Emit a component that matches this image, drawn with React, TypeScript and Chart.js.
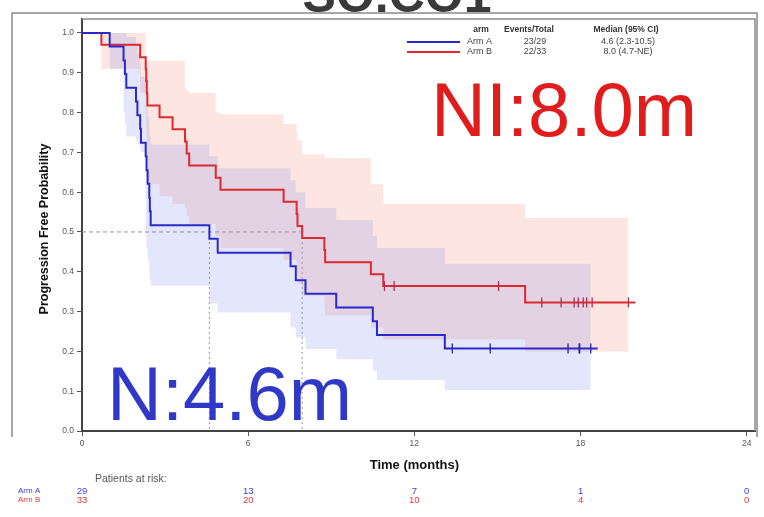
import React, { useEffect, useRef } from "react";
import { Chart, registerables } from "chart.js";

Chart.register(...registerables);

const FONT = "'Liberation Sans', Arial, sans-serif";

// Axis ticks
const timeTicks = [0, 6, 12, 18, 24];
const probTicks = [0, 0.1, 0.2, 0.3, 0.4, 0.5, 0.6, 0.7, 0.8, 0.9, 1.0];

// Legend table
const armLabels = ["Arm A", "Arm B"];
const eventsTotal = ["23/29", "22/33"];
const medianText = ["4.6 (2.3-10.5)", "8.0 (4.7-NE)"];
const medianTimes = [4.6, 7.95];
const headerLabels = ["arm", "Events/Total", "Median (95% CI)"];

// Patients at risk at each time tick
const atRiskA = [29, 13, 7, 1, 0];
const atRiskB = [33, 20, 10, 4, 0];

// Arm A: Kaplan-Meier steps with 95% CI
const armATimes = [0, 1.0, 1.5, 1.55, 1.6, 1.95, 2.0, 2.1, 2.13, 2.3, 2.33, 2.37, 2.43, 2.45, 2.48, 4.6, 4.9, 7.53, 7.72, 8.07, 9.18, 10.5, 10.65, 13.1];
const armASurv = [1, 0.966, 0.931, 0.897, 0.862, 0.828, 0.793, 0.759, 0.724, 0.69, 0.655, 0.621, 0.586, 0.552, 0.517, 0.483, 0.448, 0.414, 0.379, 0.345, 0.31, 0.276, 0.241, 0.207];
const armALower = [1, 0.91, 0.8, 0.77, 0.74, 0.73, 0.72, 0.71, 0.7, 0.49, 0.46, 0.43, 0.4, 0.38, 0.365, 0.32, 0.298, 0.26, 0.235, 0.206, 0.18, 0.15, 0.128, 0.103];
const armAUpper = [1, 1, 1, 1, 0.99, 0.97, 0.95, 0.92, 0.89, 0.85, 0.82, 0.79, 0.76, 0.74, 0.72, 0.69, 0.66, 0.63, 0.6, 0.56, 0.53, 0.49, 0.46, 0.42];
const armACensored = [13.37, 14.74, 17.55, 17.95, 17.97, 18.37];
const armALastTime = 18.62;

// Arm B: Kaplan-Meier steps with 95% CI
const armBTimes = [0, 0.7, 2.1, 2.3, 2.32, 2.34, 2.36, 2.8, 3.27, 3.72, 3.78, 3.87, 4.83, 5.0, 7.28, 7.75, 7.78, 7.95, 8.75, 8.78, 10.43, 10.88, 16.0];
const armBSurv = [1, 0.97, 0.939, 0.909, 0.879, 0.848, 0.818, 0.788, 0.758, 0.727, 0.697, 0.667, 0.636, 0.606, 0.576, 0.545, 0.515, 0.485, 0.455, 0.424, 0.394, 0.364, 0.323];
const armBLower = [1, 0.91, 0.85, 0.8, 0.74, 0.68, 0.62, 0.59, 0.57, 0.56, 0.54, 0.52, 0.49, 0.46, 0.43, 0.4, 0.37, 0.34, 0.31, 0.29, 0.26, 0.23, 0.2];
const armBUpper = [1, 1, 1, 0.93, 0.93, 0.93, 0.93, 0.93, 0.93, 0.86, 0.855, 0.85, 0.8, 0.796, 0.771, 0.75, 0.73, 0.695, 0.69, 0.686, 0.62, 0.57, 0.535];
const armBCensored = [10.92, 11.27, 15.04, 16.6, 17.3, 17.77, 17.92, 18.1, 18.22, 18.42, 19.73];
const armBLastTime = 19.98;

const BLUE = "rgb(42,42,200)";
const RED = "rgb(220,42,48)";
const BLUE_MARK = "rgb(40,40,150)";
const RED_MARK = "rgb(170,50,80)";
const BLUE_BAND = "rgba(120,130,235,0.2)";
const RED_BAND = "rgba(245,135,115,0.21)";

function stepPoints(times: number[], values: number[], end: number) {
  const pts = times.map((t, i) => ({ x: t, y: values[i] }));
  pts.push({ x: end, y: values[values.length - 1] });
  return pts;
}

function valueAt(times: number[], values: number[], t: number) {
  let v = values[0];
  for (let i = 0; i < times.length; i++) if (times[i] <= t) v = values[i];
  return v;
}

const decorPlugin = {
  id: "decor",
  beforeDatasetsDraw(chart: any) {
    const { ctx, chartArea, scales } = chart;
    const xs = scales.x;
    const ys = scales.y;
    ctx.save();
    // median reference lines
    ctx.strokeStyle = "rgba(140,140,140,0.9)";
    ctx.lineWidth = 1;
    ctx.setLineDash([4, 3]);
    const y50 = ys.getPixelForValue(0.5);
    ctx.beginPath();
    ctx.moveTo(chartArea.left, y50);
    ctx.lineTo(xs.getPixelForValue(Math.max(...medianTimes)), y50);
    ctx.stroke();
    ctx.setLineDash([2, 3]);
    medianTimes.forEach((m) => {
      const x = xs.getPixelForValue(m);
      ctx.beginPath();
      ctx.moveTo(x, y50);
      ctx.lineTo(x, ys.getPixelForValue(0));
      ctx.stroke();
    });
    ctx.restore();
  },
  afterDraw(chart: any) {
    const { ctx, chartArea, scales } = chart;
    const xs = scales.x;
    ctx.save();

    // heading, partly above the frame
    ctx.fillStyle = "#3a3a3a";
    ctx.font = `bold 50px ${FONT}`;
    ctx.textAlign = "center";
    ctx.textBaseline = "alphabetic";
    ctx.fillText("SO.CO1", 397, 12);

    // outer frame and plot box
    ctx.strokeStyle = "#8a8a8a";
    ctx.lineWidth = 1.5;
    ctx.beginPath();
    ctx.moveTo(12, 437);
    ctx.lineTo(12, 13);
    ctx.lineTo(757, 13);
    ctx.lineTo(757, 437);
    ctx.stroke();
    ctx.beginPath();
    ctx.moveTo(chartArea.left, chartArea.top);
    ctx.lineTo(chartArea.right, chartArea.top);
    ctx.lineTo(chartArea.right, chartArea.bottom);
    ctx.stroke();

    // legend table
    ctx.fillStyle = "#333";
    ctx.font = `bold 8.5px ${FONT}`;
    ctx.textBaseline = "middle";
    ctx.textAlign = "center";
    const colX = [481, 529, 626];
    headerLabels.forEach((h, i) => ctx.fillText(h, colX[i], 30));
    const rowY = [42, 52];
    const lineColors = [BLUE, RED];
    ctx.font = `9px ${FONT}`;
    armLabels.forEach((name, i) => {
      ctx.strokeStyle = lineColors[i];
      ctx.lineWidth = 2;
      ctx.beginPath();
      ctx.moveTo(407, rowY[i]);
      ctx.lineTo(460, rowY[i]);
      ctx.stroke();
      ctx.fillStyle = "#444";
      ctx.textAlign = "left";
      ctx.fillText(name, 467, rowY[i]);
      ctx.textAlign = "center";
      ctx.fillText(eventsTotal[i], 535, rowY[i]);
      ctx.fillText(medianText[i], 628, rowY[i]);
    });

    // medians written large
    ctx.font = `76px ${FONT}`;
    ctx.textAlign = "left";
    ctx.textBaseline = "alphabetic";
    ctx.fillStyle = "rgb(225,28,28)";
    ctx.fillText("NI:8.0m", 431, 136);
    ctx.fillStyle = "rgb(48,56,200)";
    ctx.fillText("N:4.6m", 107, 420);

    // axis titles
    ctx.fillStyle = "#111";
    ctx.font = `bold 13px ${FONT}`;
    ctx.textAlign = "center";
    ctx.textBaseline = "middle";
    ctx.fillText("Time (months)", (xs.getPixelForValue(0) + xs.getPixelForValue(24)) / 2, 465);
    ctx.save();
    ctx.translate(45, 229);
    ctx.rotate(-Math.PI / 2);
    ctx.font = `bold 12.5px ${FONT}`;
    ctx.fillText("Progression Free Probability", 0, 0);
    ctx.restore();

    // patients at risk
    ctx.font = `10.5px ${FONT}`;
    ctx.fillStyle = "#555";
    ctx.textAlign = "left";
    ctx.fillText("Patients at risk:", 95, 479);
    const rows = [atRiskA, atRiskB];
    const rowColors = ["rgb(60,60,225)", "rgb(228,55,55)"];
    const tableY = [491, 500];
    rows.forEach((row, r) => {
      ctx.fillStyle = rowColors[r];
      ctx.textAlign = "left";
      ctx.font = `8px ${FONT}`;
      ctx.fillText(armLabels[r], 18, tableY[r]);
      ctx.textAlign = "center";
      ctx.font = `9.5px ${FONT}`;
      row.forEach((n, i) => ctx.fillText(String(n), xs.getPixelForValue(timeTicks[i]), tableY[r]));
    });
    ctx.restore();
  },
};

export default function App() {
  const canvasRef = useRef<HTMLCanvasElement | null>(null);

  useEffect(() => {
    if (!canvasRef.current) return;
    const censorPoints = (times: number[], values: number[], cens: number[]) =>
      cens.map((t) => ({ x: t, y: valueAt(times, values, t) }));

    const aBandEnd = armACensored[armACensored.length - 1];
    const bBandEnd = armBCensored[armBCensored.length - 1];

    const chart = new Chart(canvasRef.current, {
      type: "line",
      data: {
        datasets: [
          {
            label: "Arm A",
            data: stepPoints(armATimes, armASurv, armALastTime),
            borderColor: BLUE,
            borderWidth: 2,
            stepped: true,
            pointRadius: 0,
            fill: false,
            order: 0,
          },
          {
            label: "Arm B",
            data: stepPoints(armBTimes, armBSurv, armBLastTime),
            borderColor: RED,
            borderWidth: 2,
            stepped: true,
            pointRadius: 0,
            fill: false,
            order: 0,
          },
          {
            label: "Arm A censored",
            data: censorPoints(armATimes, armASurv, armACensored),
            showLine: false,
            pointStyle: "line",
            pointRotation: 90,
            pointRadius: 5,
            pointBorderWidth: 1.3,
            pointBorderColor: BLUE_MARK,
            borderColor: BLUE_MARK,
            order: -1,
          },
          {
            label: "Arm B censored",
            data: censorPoints(armBTimes, armBSurv, armBCensored),
            showLine: false,
            pointStyle: "line",
            pointRotation: 90,
            pointRadius: 5,
            pointBorderWidth: 1.3,
            pointBorderColor: RED_MARK,
            borderColor: RED_MARK,
            order: -1,
          },
          {
            label: "Arm A upper",
            data: stepPoints(armATimes, armAUpper, aBandEnd),
            borderWidth: 0,
            borderColor: "rgba(0,0,0,0)",
            backgroundColor: BLUE_BAND,
            stepped: true,
            pointRadius: 0,
            fill: "+1",
            order: 5,
          },
          {
            label: "Arm A lower",
            data: stepPoints(armATimes, armALower, aBandEnd),
            borderWidth: 0,
            borderColor: "rgba(0,0,0,0)",
            stepped: true,
            pointRadius: 0,
            fill: false,
            order: 5,
          },
          {
            label: "Arm B upper",
            data: stepPoints(armBTimes, armBUpper, bBandEnd),
            borderWidth: 0,
            borderColor: "rgba(0,0,0,0)",
            backgroundColor: RED_BAND,
            stepped: true,
            pointRadius: 0,
            fill: "+1",
            order: 6,
          },
          {
            label: "Arm B lower",
            data: stepPoints(armBTimes, armBLower, bBandEnd),
            borderWidth: 0,
            borderColor: "rgba(0,0,0,0)",
            stepped: true,
            pointRadius: 0,
            fill: false,
            order: 6,
          },
        ],
      },
      options: {
        responsive: false,
        animation: false,
        devicePixelRatio: 1,
        events: [],
        layout: { padding: { top: 19, right: 9, left: 0, bottom: 0 } },
        plugins: {
          legend: { display: false },
          tooltip: { enabled: false },
          title: { display: false },
        },
        scales: {
          x: {
            type: "linear",
            min: 0,
            max: 24.3,
            afterBuildTicks: (s: any) => {
              s.ticks = timeTicks.map((v) => ({ value: v }));
            },
            afterFit: (s: any) => {
              s.height = 86;
            },
            grid: { drawOnChartArea: false, drawTicks: true, tickLength: 5, color: "#555", lineWidth: 1 },
            border: { display: true, color: "#444", width: 2 },
            ticks: {
              padding: 3,
              maxRotation: 0,
              autoSkip: false,
              color: "#555",
              font: { family: FONT, size: 8.5 },
              callback: (v: any) => String(v),
            },
          },
          y: {
            type: "linear",
            min: 0,
            max: 1.035,
            afterBuildTicks: (s: any) => {
              s.ticks = probTicks.map((v) => ({ value: v }));
            },
            afterFit: (s: any) => {
              s.width = 82;
            },
            grid: { drawOnChartArea: false, drawTicks: true, tickLength: 5, color: "#555", lineWidth: 1 },
            border: { display: true, color: "#444", width: 2 },
            ticks: {
              padding: 3,
              autoSkip: false,
              color: "#555",
              font: { family: FONT, size: 8.5 },
              callback: (v: any) => Number(v).toFixed(1),
            },
          },
        },
      },
      plugins: [decorPlugin],
    } as any);

    return () => chart.destroy();
  }, []);

  return (
    <div style={{ position: "fixed", left: 0, top: 0, width: 764, height: 517, background: "#fff" }}>
      <canvas ref={canvasRef} width={764} height={517} style={{ display: "block" }} />
    </div>
  );
}
